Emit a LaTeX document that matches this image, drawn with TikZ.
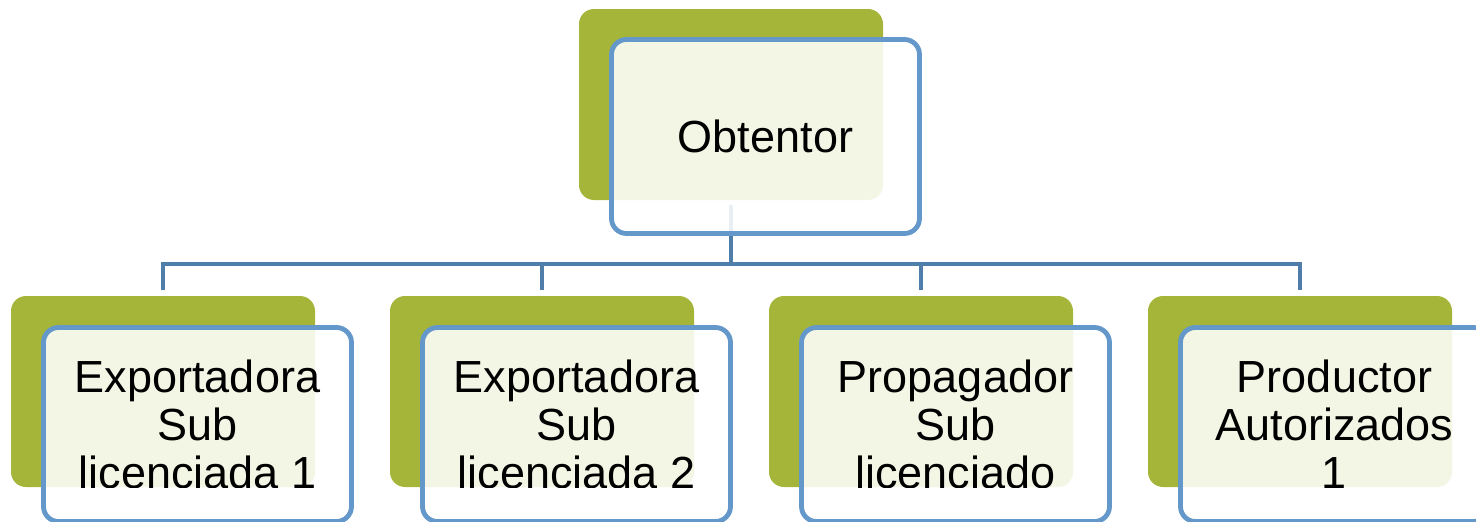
\documentclass[tikz,border=0pt]{standalone}
\usepackage{fontspec}
\setmainfont{Liberation Sans}
\usetikzlibrary{backgrounds}
\definecolor{leaf}{RGB}{164,181,58}
\definecolor{framecol}{RGB}{100,152,202}
\definecolor{wirecol}{RGB}{79,126,171}
\begin{document}
\begin{tikzpicture}[x=1pt,y=-1pt,
  backbox/.style={fill=leaf, rounded corners=15pt, minimum width=304pt, minimum height=191pt,
    anchor=north west, inner sep=0pt, outer sep=0pt},
  frontbox/.style={draw=framecol, line width=4.8pt, fill=white, fill opacity=0.87, draw opacity=1,
    rounded corners=15pt, minimum width=308pt, minimum height=194pt,
    anchor=north west, inner sep=0pt, outer sep=0pt},
  txtbox/.style={font=\fontsize{45}{48}\selectfont, align=center, inner sep=0pt, text=black},
  wireline/.style={draw=wirecol, line width=4.5pt}]
\useasboundingbox (0,0) rectangle (1476,522);
\clip (0,0) rectangle (1476,522);
\coordinate (bus) at (0,264);
% top
\node[backbox] (g0) at (579,9) {};
\node[frontbox] (f0) at (611.5,39.5) {};
% bottom
\foreach \i in {1,2,3,4}{
  \node[backbox] (g\i) at ({11+379*(\i-1)},296) {};
  \node[frontbox] (f\i) at ({43.5+379*(\i-1)},327.5) {};
}
% texts
\begin{scope}
  \clip ([shift={(-60pt,60pt)}]g0.north west) rectangle ([xshift=60pt]g0.south east);
  \node[txtbox] (t0) at (f0.center) {Obtentor};
\end{scope}
\begin{scope}
  \clip ([shift={(-60pt,60pt)}]g1.north west) rectangle ([xshift=60pt]g1.south east);
  \node[txtbox] (t1) at ([yshift=0.5pt]f1.center) {Exportadora\\Sub\\licenciada 1};
\end{scope}
\begin{scope}
  \clip ([shift={(-60pt,60pt)}]g2.north west) rectangle ([xshift=60pt]g2.south east);
  \node[txtbox] (t2) at ([yshift=0.5pt]f2.center) {Exportadora\\Sub\\licenciada 2};
\end{scope}
\begin{scope}
  \clip ([shift={(-60pt,60pt)}]g3.north west) rectangle ([xshift=60pt]g3.south east);
  \node[txtbox] (t3) at ([yshift=0.5pt]f3.center) {Propagador\\Sub\\licenciado};
\end{scope}
\begin{scope}
  \clip ([shift={(-60pt,60pt)}]g4.north west) rectangle ([xshift=60pt]g4.south east);
  \node[txtbox] (t4) at ([yshift=0.5pt]f4.center) {Productor\\Autorizados\\1};
\end{scope}
% connectors
\begin{scope}[on background layer]
  \draw[wireline] ([yshift=-5pt]g0.south) -- (g0.south |- bus);
  \draw[wireline] ([yshift=6pt]g1.north) -- (g1.north |- bus) -- (g4.north |- bus) -- ([yshift=6pt]g4.north);
  \draw[wireline] ([yshift=6pt]g2.north) -- (g2.north |- bus);
  \draw[wireline] ([yshift=6pt]g3.north) -- (g3.north |- bus);
\end{scope}
\end{tikzpicture}
\end{document}
